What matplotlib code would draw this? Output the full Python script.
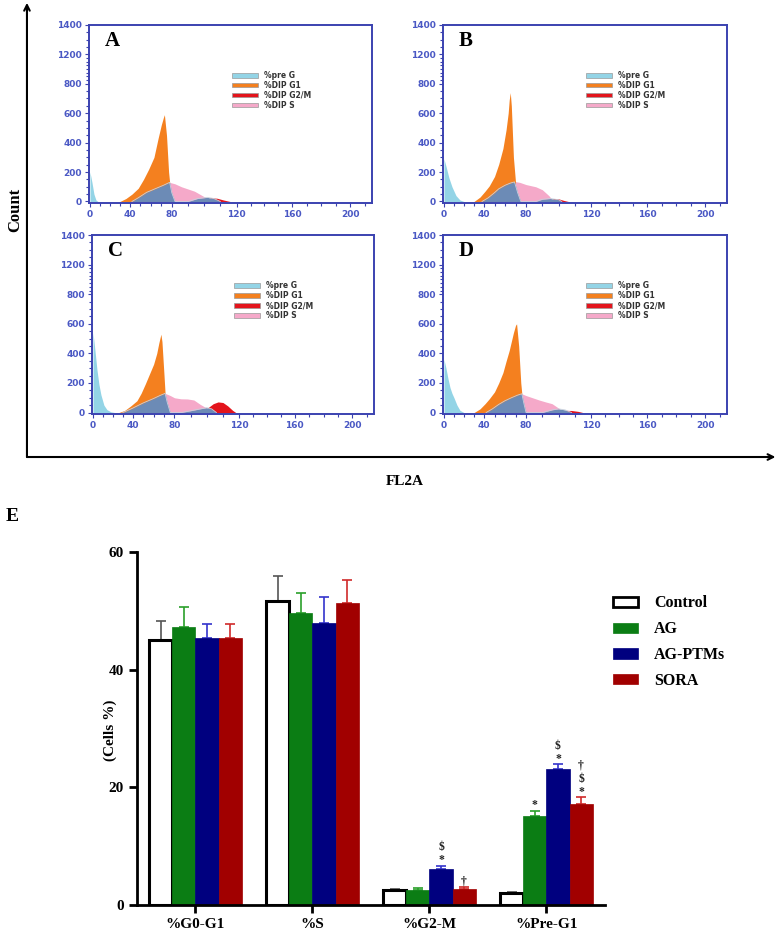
import numpy as np
import matplotlib.pyplot as plt
from matplotlib.patches import Patch
from matplotlib.ticker import MultipleLocator

#---------- histogram data (FL2A channel, count) ----------#
a_preg_x = [0, 2, 4, 6, 8]
a_preg_y = [200, 130, 50, 10, 0]
a_g1_x = [30, 36, 42, 48, 53, 58, 63, 67, 70, 72, 73, 75, 77, 78]
a_g1_y = [0, 20, 50, 90, 150, 220, 300, 430, 520, 570, 590, 450, 200, 130]
a_base_x = [42, 48, 56, 62, 67, 72, 78, 80, 82, 90, 96, 102, 106, 110]
a_base_y = [0, 25, 62, 80, 95, 110, 130, 60, 0, 0, 20, 28, 20, 0]
a_s_x = [76, 78, 82, 86, 90, 94, 98, 102, 106]
a_s_y = [0, 130, 120, 100, 85, 70, 45, 20, 0]
a_g2_x = [100, 104, 108, 112, 116]
a_g2_y = [0, 25, 22, 10, 0]

b_preg_x = [0, 2, 5, 8, 12, 16, 20]
b_preg_y = [290, 240, 160, 100, 40, 10, 0]
b_g1_x = [30, 36, 41, 45, 50, 54, 58, 61, 63, 64, 65, 66, 68, 70]
b_g1_y = [0, 30, 70, 106, 170, 253, 360, 487, 600, 690, 740, 650, 300, 130]
b_base_x = [38, 44, 50, 54, 60, 65, 69, 72, 75, 86, 90, 95, 100, 102]
b_base_y = [0, 25, 60, 86, 110, 125, 133, 60, 0, 0, 15, 20, 12, 0]
b_s_x = [68, 70, 74, 80, 86, 90, 94, 97]
b_s_y = [0, 135, 130, 115, 100, 80, 40, 0]
b_g2_x = [94, 97, 100, 103, 106]
b_g2_y = [0, 20, 18, 8, 0]

c_preg_x = [0, 2, 4, 6, 8, 11, 14, 18, 22]
c_preg_y = [540, 420, 290, 190, 120, 50, 20, 5, 0]
c_g1_x = [26, 32, 38, 44, 48, 52, 56, 60, 63, 65, 67, 68, 70, 71]
c_g1_y = [0, 15, 45, 80, 130, 193, 260, 327, 400, 470, 530, 480, 250, 130]
c_base_x = [30, 40, 50, 60, 66, 71, 73, 76, 84, 90, 96, 100, 103, 106]
c_base_y = [0, 30, 65, 95, 115, 130, 70, 0, 0, 12, 25, 33, 25, 0]
c_s_x = [69, 71, 76, 80, 84, 88, 92, 96, 100, 104]
c_s_y = [0, 130, 115, 100, 93, 92, 85, 55, 30, 0]
c_g2_x = [98, 101, 104, 107, 110, 113, 116, 118]
c_g2_y = [0, 35, 60, 72, 68, 45, 15, 0]

d_preg_x = [0, 2, 4, 6, 8, 10, 13, 16, 20]
d_preg_y = [360, 300, 230, 170, 130, 100, 50, 15, 0]
d_g1_x = [30, 36, 41, 45, 50, 54, 58, 61, 64, 66, 68, 70, 71, 73, 75, 76]
d_g1_y = [0, 25, 60, 93, 140, 200, 270, 347, 420, 480, 540, 590, 600, 450, 200, 127]
d_base_x = [42, 48, 54, 60, 66, 72, 76, 78, 80, 90, 96, 100, 104, 108]
d_base_y = [0, 25, 55, 80, 100, 118, 127, 60, 0, 0, 18, 25, 18, 0]
d_s_x = [74, 76, 80, 84, 88, 92, 96, 100, 103]
d_s_y = [0, 127, 115, 100, 85, 72, 60, 30, 0]
d_g2_x = [100, 104, 108, 112, 115]
d_g2_y = [0, 15, 14, 8, 0]

hist_xticks = [0, 40, 80, 120, 160, 200]
hist_yticks = [0, 200, 400, 600, 800, 1200, 1400]
legend_labels = ['%pre G', '%DIP G1', '%DIP G2/M', '%DIP S']

#---------- bar chart data ----------#
phases = ['%G0-G1', '%S', '%G2-M', '%Pre-G1']
groups = ['Control', 'AG', 'AG-PTMs', 'SORA']
control_mean = [45.0, 51.7, 2.6, 2.0]
control_err = [3.2, 4.2, 0.2, 0.2]
ag_mean = [47.3, 49.6, 2.6, 15.1]
ag_err = [3.3, 3.5, 0.3, 0.9]
ptm_mean = [45.3, 48.0, 6.1, 23.1]
ptm_err = [2.4, 4.3, 0.6, 0.8]
sora_mean = [45.3, 51.3, 2.8, 17.2]
sora_err = [2.4, 4.0, 0.3, 1.1]
control_sig = ['', '', '', '']
ag_sig = ['', '', '', '*']
ptm_sig = ['', '', '*$', '*$']
sora_sig = ['', '', '†', '*$†']

# the original FCS axes are not evenly spaced, remap labels to positions
xk_val = [-20, 0, 40, 80, 120, 160, 200, 260]
xk_pos = [-20, 0, 40, 82, 147, 203, 261, 348]
yk_val = [-200, 0, 200, 400, 600, 800, 1200, 1400, 1600]
yk_pos = [-200, 0, 200, 400, 600, 800, 1000, 1200, 1400]

def fx(v):
    return np.interp(v, xk_val, xk_pos)
def ix(p):
    return np.interp(p, xk_pos, xk_val)
def fy(v):
    return np.interp(v, yk_val, yk_pos)
def iy(p):
    return np.interp(p, yk_pos, yk_val)

SERIF = 'Liberation Serif'
C_PREG = '#93d4e6'
C_G1 = '#f4801f'
C_G2 = '#e3141c'
C_S = '#f5a9c9'
C_BASE = '#6c8bb6'
AXBLUE = '#3b42b0'
TXTBLUE = '#4a58c4'

fig = plt.figure(figsize=(7.77, 9.34), dpi=100)

boxes = [[0.1145, 0.7827, 0.3642, 0.1906],
         [0.5701, 0.7827, 0.3655, 0.1906],
         [0.1184, 0.5567, 0.3629, 0.1916],
         [0.5701, 0.5567, 0.3655, 0.1916]]
panels = [
    ('A', a_preg_x, a_preg_y, a_g1_x, a_g1_y, a_base_x, a_base_y, a_s_x, a_s_y, a_g2_x, a_g2_y),
    ('B', b_preg_x, b_preg_y, b_g1_x, b_g1_y, b_base_x, b_base_y, b_s_x, b_s_y, b_g2_x, b_g2_y),
    ('C', c_preg_x, c_preg_y, c_g1_x, c_g1_y, c_base_x, c_base_y, c_s_x, c_s_y, c_g2_x, c_g2_y),
    ('D', d_preg_x, d_preg_y, d_g1_x, d_g1_y, d_base_x, d_base_y, d_s_x, d_s_y, d_g2_x, d_g2_y),
]

for box, p in zip(boxes, panels):
    letter, px, py, gx, gy, bx, by, sx, sy, mx, my = p
    ax = fig.add_axes(box)
    ax.set_xscale('function', functions=(fx, ix))
    ax.set_yscale('function', functions=(fy, iy))
    ax.fill_between(px, 0, py, color=C_PREG, lw=0)
    ax.fill_between(gx, 0, gy, color=C_G1, lw=0)
    ax.fill_between(sx, 0, sy, color=C_S, lw=0)
    ax.fill_between(mx, 0, my, color=C_G2, lw=0)
    ax.fill_between(bx, 0, by, color=C_BASE, lw=0)
    ax.plot(bx, by, color='#c8d0dc', lw=0.6)
    ax.set_xlim(-1, 215)
    ax.set_ylim(-10, 1400)
    ax.set_xticks(hist_xticks, [str(t) for t in hist_xticks],
                  fontsize=6.5, fontweight='bold', color=TXTBLUE)
    ax.set_yticks(hist_yticks, [str(t) for t in hist_yticks],
                  fontsize=6.5, fontweight='bold', color=TXTBLUE)
    ax.xaxis.set_minor_locator(MultipleLocator(10))
    ax.yaxis.set_minor_locator(MultipleLocator(50))
    ax.tick_params(which='both', color=AXBLUE, width=0.8, pad=2)
    ax.tick_params(which='major', length=3)
    ax.tick_params(which='minor', length=2)
    for s in ax.spines.values():
        s.set_color(AXBLUE)
        s.set_linewidth(1.4)
    ax.text(0.055, 0.965, letter, transform=ax.transAxes, fontsize=15,
            fontweight='bold', family=SERIF, va='top', ha='left')
    hh = [Patch(facecolor=c, edgecolor='#999999', lw=0.5) for c in [C_PREG, C_G1, C_G2, C_S]]
    ax.legend(hh, legend_labels, loc='upper left', bbox_to_anchor=(0.48, 0.78),
              frameon=False, prop={'size': 5.5, 'weight': 'bold'},
              handlelength=3.4, handleheight=0.55, labelspacing=0.12,
              handletextpad=0.8, labelcolor='#333333')

# big outer axes with arrows
ann = fig.add_axes([0, 0, 1, 1])
ann.axis('off')
ann.annotate('', xy=(0.0347, 0.997), xytext=(0.0347, 0.5107), xycoords='figure fraction',
             arrowprops=dict(arrowstyle='->', lw=1.5, color='black', shrinkA=0, shrinkB=0))
ann.annotate('', xy=(0.998, 0.5107), xytext=(0.0347, 0.5107), xycoords='figure fraction',
             arrowprops=dict(arrowstyle='->', lw=1.5, color='black', shrinkA=0, shrinkB=0))
fig.text(0.019, 0.775, 'Count', rotation=90, fontsize=12, fontweight='bold',
         family=SERIF, ha='center', va='center')
fig.text(0.521, 0.484, 'FL2A', fontsize=11, fontweight='bold', family=SERIF,
         ha='center', va='center')
fig.text(0.0154, 0.4475, 'E', fontsize=14, fontweight='bold', family=SERIF,
         ha='center', va='center')

#---------- bar chart E ----------#
bx_ax = fig.add_axes([0.1763, 0.031, 0.6023, 0.378])
x = np.arange(len(phases))
w = 0.197
means = [control_mean, ag_mean, ptm_mean, sora_mean]
errs = [control_err, ag_err, ptm_err, sora_err]
sigs = [control_sig, ag_sig, ptm_sig, sora_sig]
faces = ['white', '#0b7d14', '#00007f', '#a10000']
edges = ['black', '#0b7d14', '#00007f', '#a10000']
elw = [2.2, 0.5, 0.5, 0.5]
ecols = ['#555555', '#2aa02a', '#3333cc', '#d02a2a']
for i in range(4):
    xp = x + (i - 1.5) * w
    bx_ax.bar(xp, means[i], w, color=faces[i], edgecolor=edges[i], linewidth=elw[i],
              label=groups[i], zorder=2)
    bx_ax.errorbar(xp, means[i], yerr=[np.zeros(4), errs[i]], fmt='none',
                   ecolor=ecols[i], elinewidth=1.2, capsize=3.6, capthick=1.2, zorder=1)
    for j in range(4):
        for k, ch in enumerate(sigs[i][j]):
            bx_ax.annotate(ch, (xp[j], means[i][j] + errs[i][j]), xytext=(0, 4 + 9.5 * k),
                           textcoords='offset points', ha='center', va='center',
                           fontsize=8.5, fontweight='bold', family=SERIF, color='#222222')

bx_ax.set_xlim(-0.5, 3.5)
bx_ax.set_ylim(0, 60)
bx_ax.set_yticks([0, 20, 40, 60])
bx_ax.set_xticks(x, phases)
for s in ['top', 'right']:
    bx_ax.spines[s].set_visible(False)
for s in ['left', 'bottom']:
    bx_ax.spines[s].set_linewidth(2)
bx_ax.tick_params(width=2, length=6)
for lab in bx_ax.get_xticklabels() + bx_ax.get_yticklabels():
    lab.set_family(SERIF)
    lab.set_fontweight('bold')
    lab.set_fontsize(11)
fig.text(0.1416, 0.2184, '(Cells %)', rotation=90, fontsize=11, fontweight='bold',
         family=SERIF, ha='center', va='center')

handles = [Patch(facecolor=faces[i], edgecolor=edges[i], linewidth=2 if i == 0 else 0.5)
           for i in range(4)]
fig.legend(handles, groups, loc='upper left', bbox_to_anchor=(0.77, 0.378),
           frameon=False, prop={'family': SERIF, 'weight': 'bold', 'size': 11.5},
           handlelength=1.6, handleheight=0.6, labelspacing=0.62, handletextpad=1.0)

plt.savefig('out.png', dpi=100)
